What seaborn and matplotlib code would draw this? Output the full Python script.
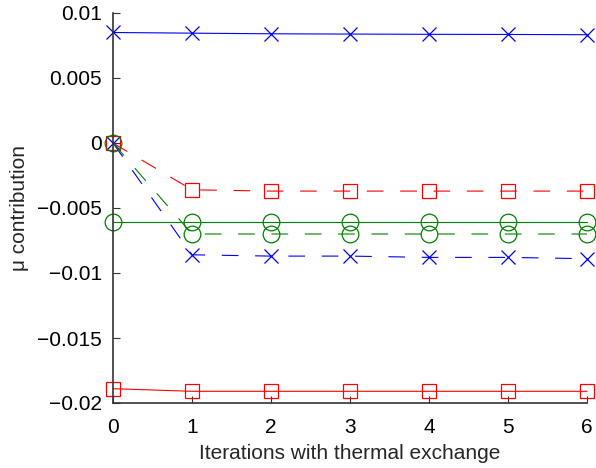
import numpy as np
import matplotlib.pyplot as plt
import seaborn as sns
from matplotlib.ticker import FixedLocator

iterations = [0, 1, 2, 3, 4, 5, 6]

blue_solid = [0.0085, 0.00845, 0.0084, 0.00838, 0.00836, 0.00835, 0.00833]
blue_dashed = [0.0, -0.0086, -0.0087, -0.0087, -0.0088, -0.0088, -0.0089]
red_solid = [-0.0189, -0.0191, -0.0191, -0.0191, -0.0191, -0.0191, -0.0191]
red_dashed = [0.0, -0.0036, -0.0037, -0.0037, -0.0037, -0.0037, -0.0037]
green_solid = [-0.0061, -0.0061, -0.0061, -0.0061, -0.0061, -0.0061, -0.0061]
green_dashed = [0.0, -0.0070, -0.0070, -0.0070, -0.0070, -0.0070, -0.0070]

yticks = [-0.02, -0.015, -0.01, -0.005, 0, 0.005, 0.01]
ytick_labels = ['\u22120.02', '\u22120.015', '\u22120.01', '\u22120.005', '0', '0.005', '0.01']

sns.set_style('ticks')
plt.rcParams['font.family'] = ['Liberation Sans', 'DejaVu Sans']

fig = plt.figure(figsize=(5.96, 4.68), dpi=100)
ax = fig.add_axes([113 / 596, 65 / 468, 474 / 596, 390 / 468])

green = (0, 0.5, 0)
dash = (0, (15, 15))
series = [
    (blue_solid, 'b', '-', 'x'),
    (red_solid, 'r', '-', 's'),
    (green_solid, green, '-', 'o'),
    (blue_dashed, 'b', dash, 'x'),
    (red_dashed, 'r', dash, 's'),
    (green_dashed, green, dash, 'o'),
]
for vals, col, ls, mk in series:
    ms = 12 if mk == 'o' else 9.5
    sns.lineplot(x=iterations, y=vals, ax=ax, color=col, linestyle=ls, linewidth=0.8,
                 marker=mk, markersize=ms, markerfacecolor='none', markeredgecolor=col,
                 markeredgewidth=0.9, clip_on=False)

ax.set_xlim(0, 6)
ax.set_ylim(-0.02, 0.01)
ax.set_xticks(iterations)
ax.yaxis.set_major_locator(FixedLocator(yticks))
ax.set_yticklabels(ytick_labels)
ax.tick_params(direction='in', length=5, labelsize=15, colors='black', pad=8)
ax.tick_params(axis='x', pad=11)
ax.tick_params(which='both', color='#333333')
for s in ['top', 'right']:
    ax.spines[s].set_visible(False)
for s in ['left', 'bottom']:
    ax.spines[s].set_color('#333333')
    ax.spines[s].set_linewidth(1.2)

ax.set_xlabel('Iterations with thermal exchange', fontsize=15, labelpad=5)
ax.set_ylabel('\u03bc contribution', fontsize=15, labelpad=6)

fig.savefig('out.png', dpi=100)
